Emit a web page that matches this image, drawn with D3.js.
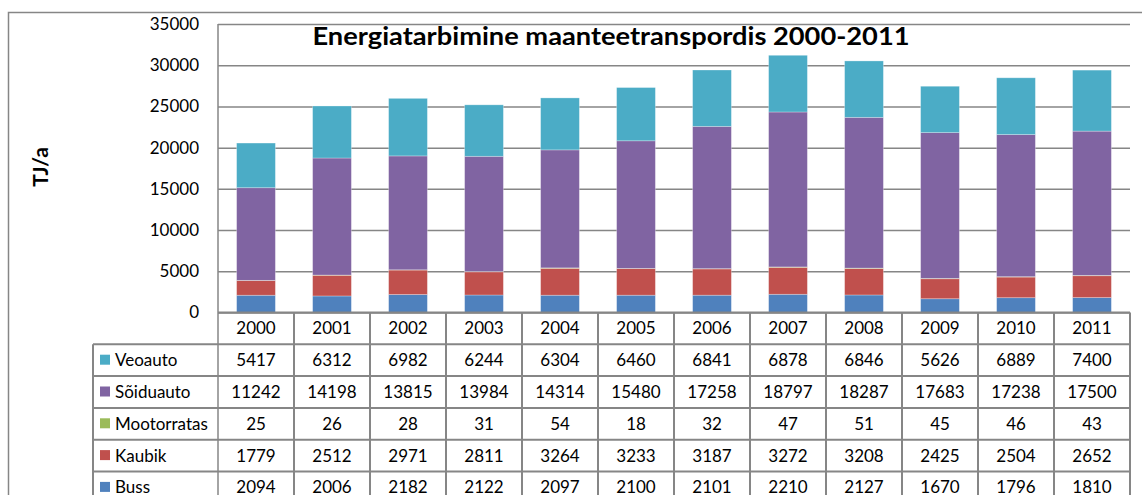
<!DOCTYPE html>
<html>
<head>
<meta charset="utf-8">
<script src="https://cdn.jsdelivr.net/npm/d3@7"></script>
<style>
  body { margin: 0; background: #fff; }
  svg { font-family: Lato, "Open Sans", sans-serif; }
</style>
</head>
<body>
<div id="chart"></div>
<script>
const YEARS = ["2000", "2001", "2002", "2003", "2004", "2005", "2006", "2007", "2008", "2009", "2010", "2011"];
const BUSS = [2094, 2006, 2182, 2122, 2097, 2100, 2101, 2210, 2127, 1670, 1796, 1810];
const KAUBIK = [1779, 2512, 2971, 2811, 3264, 3233, 3187, 3272, 3208, 2425, 2504, 2652];
const MOOTORRATAS = [25, 26, 28, 31, 54, 18, 32, 47, 51, 45, 46, 43];
const SOIDUAUTO = [11242, 14198, 13815, 13984, 14314, 15480, 17258, 18797, 18287, 17683, 17238, 17500];
const VEOAUTO = [5417, 6312, 6982, 6244, 6304, 6460, 6841, 6878, 6846, 5626, 6889, 7400];
const Y_TICKS = [0, 5000, 10000, 15000, 20000, 25000, 30000, 35000];

// series bottom to top, table rows top to bottom
const SERIES = [
    {name: "Buss", values: BUSS, color: "#4F81BD"},
    {name: "Kaubik", values: KAUBIK, color: "#C0504D"},
    {name: "Mootorratas", values: MOOTORRATAS, color: "#9BBB59"},
    {name: "Sõiduauto", values: SOIDUAUTO, color: "#8064A2"},
    {name: "Veoauto", values: VEOAUTO, color: "#4BACC6"}
];

const FRAME_WIDTH = 1142;
const FRAME_HEIGHT = 495;
const PLOT = {left: 218, right: 1130, top: 24, bottom: 312.5};
const ROW_H = 31.8;
const TABLE_LEFT = 93;
const GRID = "#868686";
const FONT_SIZE = 17;

const svg = d3.select("#chart")
                .append("svg")
                  .attr("width", FRAME_WIDTH)
                  .attr("height", FRAME_HEIGHT);

// outer chart border
svg.append("rect")
    .attr("x", 8.5).attr("y", 12.5)
    .attr("width", 1150).attr("height", 500)
    .attr("fill", "none")
    .attr("stroke", GRID)
    .attr("stroke-width", 1.5);

const X_SCALE = d3.scaleBand()
                    .domain(YEARS)
                    .range([PLOT.left, PLOT.right])
                    .paddingInner(0.49)
                    .paddingOuter(0.245);
const Y_SCALE = d3.scaleLinear()
                    .domain([0, 35000])
                    .range([PLOT.bottom, PLOT.top]);

// gridlines + y labels
const yAxis = svg.append("g")
    .attr("transform", "translate(" + PLOT.left + ",0)")
    .call(d3.axisLeft(Y_SCALE).tickValues(Y_TICKS).tickFormat(d3.format("d"))
            .tickSize(-(PLOT.right - PLOT.left)).tickPadding(19));
yAxis.select(".domain").remove();
yAxis.selectAll(".tick line").attr("stroke", GRID).attr("stroke-width", 1.5);
yAxis.selectAll(".tick text").attr("font-size", FONT_SIZE).attr("fill", "#000").attr("font-family", "Lato");

// stacked bars
const rows = YEARS.map((y, i) => {
    const r = {year: y};
    SERIES.forEach(s => r[s.name] = s.values[i]);
    return r;
});
const stacked = d3.stack().keys(SERIES.map(s => s.name))(rows);

svg.selectAll("g.layer")
    .data(stacked)
    .enter()
    .append("g")
      .attr("class", "layer")
      .attr("fill", (d, i) => SERIES[i].color)
    .selectAll("rect")
    .data(d => d)
    .enter()
    .append("rect")
      .attr("x", d => X_SCALE(d.data.year))
      .attr("y", d => Y_SCALE(d[1]))
      .attr("width", X_SCALE.bandwidth())
      .attr("height", d => Y_SCALE(d[0]) - Y_SCALE(d[1]))
      .attr("stroke", "#fff")
      .attr("stroke-opacity", 0.35)
      .attr("stroke-width", 0.8);

// y axis line
svg.append("line")
    .attr("x1", PLOT.left).attr("x2", PLOT.left)
    .attr("y1", PLOT.top).attr("y2", PLOT.bottom + ROW_H * 6)
    .attr("stroke", GRID).attr("stroke-width", 1.5);

// data table
const colW = (PLOT.right - PLOT.left) / YEARS.length;
const tableRows = SERIES.slice().reverse();
const tableTop = PLOT.bottom;
const g = svg.append("g").attr("class", "table");

// horizontal lines
g.append("line")
    .attr("x1", PLOT.left).attr("x2", PLOT.right)
    .attr("y1", tableTop).attr("y2", tableTop)
    .attr("stroke", GRID).attr("stroke-width", 2);
for (let r = 1; r <= tableRows.length + 1; r++) {
    g.append("line")
        .attr("x1", TABLE_LEFT).attr("x2", PLOT.right)
        .attr("y1", tableTop + r * ROW_H).attr("y2", tableTop + r * ROW_H)
        .attr("stroke", GRID).attr("stroke-width", 2);
}
// vertical lines
YEARS.forEach((y, i) => {
    g.append("line")
        .attr("x1", PLOT.left + (i + 1) * colW).attr("x2", PLOT.left + (i + 1) * colW)
        .attr("y1", tableTop).attr("y2", tableTop + ROW_H * 6)
        .attr("stroke", GRID).attr("stroke-width", 2);
});
g.append("line")
    .attr("x1", TABLE_LEFT).attr("x2", TABLE_LEFT)
    .attr("y1", tableTop + ROW_H).attr("y2", tableTop + ROW_H * 6)
    .attr("stroke", GRID).attr("stroke-width", 2);

// year header
g.selectAll("text.year")
    .data(YEARS)
    .enter()
    .append("text")
      .attr("class", "year")
      .attr("x", d => X_SCALE(d) + X_SCALE.bandwidth() / 2)
      .attr("y", tableTop + ROW_H / 2)
      .attr("dy", "0.35em")
      .attr("text-anchor", "middle")
      .attr("font-size", FONT_SIZE)
      .text(d => d);

// series rows
tableRows.forEach((s, r) => {
    const cy = tableTop + (r + 1.5) * ROW_H;
    g.append("rect")
        .attr("x", 100).attr("y", cy - 5.5)
        .attr("width", 10).attr("height", 10)
        .attr("fill", s.color);
    g.append("text")
        .attr("x", 115).attr("y", cy)
        .attr("dy", "0.35em")
        .attr("font-size", FONT_SIZE)
        .text(s.name);
    g.selectAll("text.v" + r)
        .data(s.values)
        .enter()
        .append("text")
          .attr("x", (d, i) => X_SCALE(YEARS[i]) + X_SCALE.bandwidth() / 2)
          .attr("y", cy)
          .attr("dy", "0.35em")
          .attr("text-anchor", "middle")
          .attr("font-size", FONT_SIZE)
          .text(d => d);
});

// title
svg.append("text")
    .attr("x", 611)
    .attr("y", 45)
    .attr("text-anchor", "middle")
    .attr("font-size", 24)
    .attr("font-weight", "bold")
    .attr("textLength", 597)
    .attr("lengthAdjust", "spacingAndGlyphs")
    .text("Energiatarbimine maanteetranspordis 2000-2011");

// y axis title
svg.append("text")
    .attr("transform", "translate(48,167) rotate(-90)")
    .attr("text-anchor", "middle")
    .attr("font-size", 21)
    .attr("font-weight", "bold")
    .text("TJ/a");
</script>
</body>
</html>
